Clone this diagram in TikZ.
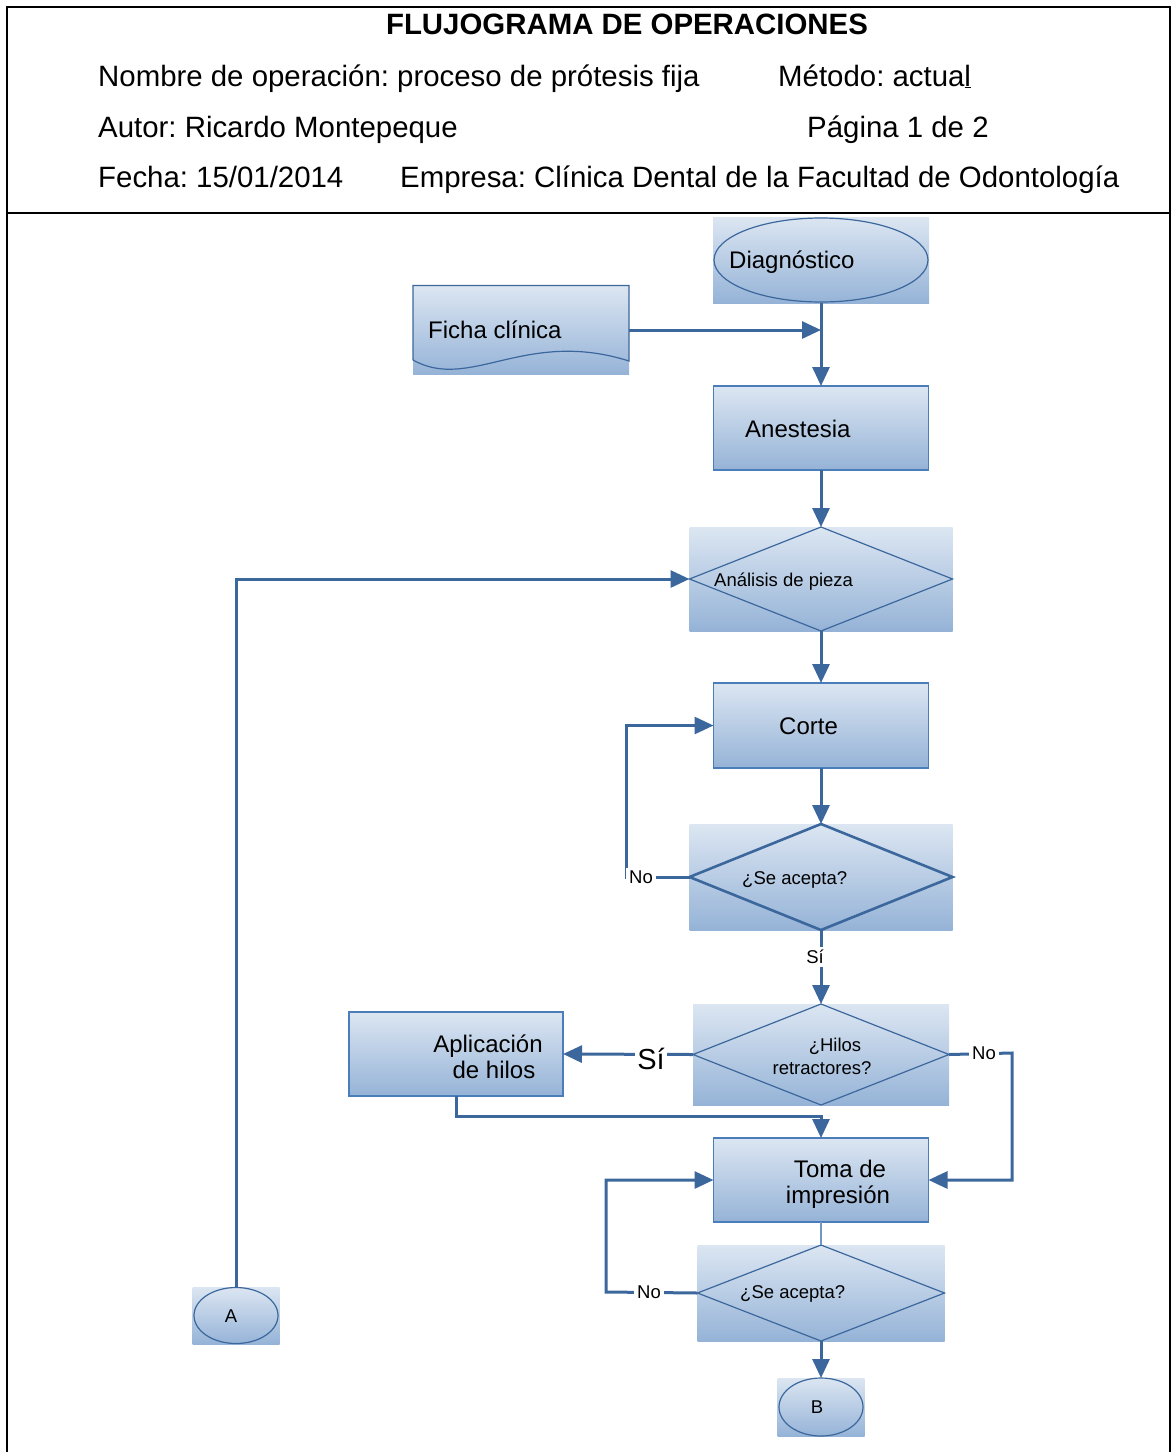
\documentclass[tikz,border=0pt]{standalone}
\usepackage{fontspec}
\setmainfont{Liberation Sans}
\usetikzlibrary{arrows.meta,calc}
\definecolor{boxtop}{HTML}{DCE6F2}
\definecolor{boxbot}{HTML}{95B3D7}
\definecolor{edgec}{HTML}{4A7EBB}
\definecolor{flowc}{HTML}{3C679C}
\frenchspacing
\begin{document}
\begin{tikzpicture}[x=1pt,y=-1pt,
  panel/.style={rectangle, inner sep=0pt, outer sep=0pt, top color=boxtop, bottom color=boxbot},
  boxed/.style={panel, draw=edgec, line width=1.1pt},
  outline/.style={draw=flowc, line width=1.2pt},
  flow/.style={draw=flowc, line width=3pt, line join=miter, -{Triangle[length=19pt,width=17pt]}},
  head/.style={font=\fontsize{29.4}{34}\selectfont, inner sep=0pt},
  big/.style={font=\fontsize{24}{28}\selectfont, inner sep=0pt},
  small/.style={font=\fontsize{18.5}{22}\selectfont, inner sep=0pt},
  tag/.style={font=\fontsize{18.5}{22}\selectfont, fill=white, inner sep=3pt}
]
\useasboundingbox (0,0) rectangle (1171,1452);

% frame of the sheet
\draw[line width=2.2pt] (7,1452) -- (7,7) -- (1170,7) -- (1170,1452);
\draw[line width=2.2pt] (7,213) -- (1170,213);

% heading block
\node[head, anchor=base] (title) at (627,34) {\bfseries FLUJOGRAMA DE OPERACIONES};
\node[head, anchor=base west] (hname) at (98,86) {Nombre de operación: proceso de prótesis fija};
\node[head, anchor=base west] (hmet) at (778,86) {Método: actua\underline{l}};
\node[head, anchor=base west] (haut) at (98,137) {Autor: Ricardo Montepeque};
\node[head, anchor=base west] (hpag) at (807,137) {Página 1 de 2};
\node[head, anchor=base west] (hfec) at (98,187) {Fecha: 15/01/2014};
\node[head, anchor=base west] (hemp) at (400,187) {Empresa: Clínica Dental de la Facultad de Odontología};

% shaded panels
\node[panel, minimum width=216pt, minimum height=86pt] (diag) at (821,260) {};
\node[panel, minimum width=216pt, minimum height=89pt] (ficha) at (521,330) {};
\node[boxed, minimum width=215pt, minimum height=84pt] (anest) at (821,428) {};
\node[panel, minimum width=263pt, minimum height=104pt] (anal) at (821,579) {};
\node[boxed, minimum width=215pt, minimum height=85pt] (corte) at (821,725.5) {};
\node[panel, minimum width=263pt, minimum height=106pt] (acep1) at (821,877) {};
\node[panel, minimum width=256pt, minimum height=101pt] (hilos) at (821,1054.5) {};
\node[boxed, minimum width=214pt, minimum height=84pt] (aplic) at (456,1054) {};
\node[boxed, minimum width=215pt, minimum height=84pt] (toma) at (821,1180) {};
\node[panel, minimum width=247pt, minimum height=96pt] (acep2) at (821,1293) {};
\node[panel, minimum width=87pt, minimum height=58pt] (bcon) at (821,1407) {};
\node[panel, minimum width=87pt, minimum height=57pt] (acon) at (236,1315.5) {};

% outlines drawn over the panels
\draw[outline] (diag.center) ellipse [x radius=107pt, y radius=42pt];
\draw[outline] (acon.center) ellipse [x radius=42pt, y radius=28pt];
\draw[outline] (bcon.center) ellipse [x radius=42pt, y radius=29pt];
\draw[outline] (413,360) -- (ficha.north west) -- (ficha.north east) -- (629,361)
  .. controls (525,328) and (470,392) .. (413,360);
\draw[outline] (anal.north) -- (anal.east) -- (anal.south) -- (anal.west) -- cycle;
\draw[draw=flowc, line width=2.6pt] (acep1.north) -- (acep1.east) -- (acep1.south) -- (acep1.west) -- cycle;
\draw[outline] (hilos.north) -- (hilos.east) -- (hilos.south) -- (hilos.west) -- cycle;
\draw[outline] (acep2.north) -- (acep2.east) -- (acep2.south) -- (acep2.west) -- cycle;

% texts of the steps
\node[big, anchor=base west] (tdiag) at (729,268) {Diagnóstico};
\node[big, anchor=base west] (tficha) at (428,338) {Ficha clínica};
\node[big, anchor=base west] (tanest) at (745,437) {Anestesia};
\node[small, anchor=base west] (tanal) at (714,586) {Análisis de pieza};
\node[big, anchor=base west] (tcorte) at (779,734) {Corte};
\node[small, anchor=base west] (tacep1) at (742,884) {¿Se acepta?};
\node[small, anchor=base] (thil1) at (835,1051) {¿Hilos};
\node[small, anchor=base] (thil2) at (822,1074) {retractores?};
\node[big, anchor=base] (tapl1) at (488,1052) {Aplicación};
\node[big, anchor=base] (tapl2) at (494,1078) {de hilos};
\node[big, anchor=base] (ttom1) at (840,1177) {Toma de};
\node[big, anchor=base] (ttom2) at (838,1203) {impresión};
\node[small, anchor=base west] (tacep2) at (740,1298) {¿Se acepta?};
\node[small] (ta) at (231,1316) {A};
\node[small] (tb) at (817,1407) {B};

% connectors
\coordinate (n1) at (626,877);
\coordinate (n2) at (1012,1053);
\coordinate (n3) at (606,1292);
\coordinate (j1) at (0,1116);

\draw[flow] (diag.south) -- (anest.north);
\draw[flow] (ficha.east) -- (ficha.east -| diag.south);
\draw[flow] (anest.south) -- (anal.north);
\draw[flow] (acon.north) |- (anal.west);
\draw[flow] (anal.south) -- (corte.north);
\draw[flow] (corte.south) -- (acep1.north);
\draw[flow] (acep1.west) -- (n1) |- (corte.west);
\draw[flow] (acep1.south) -- (hilos.north);
\draw[flow] (hilos.west) -- (aplic.east);
\draw[flow] (aplic.south) -- (aplic.south |- j1) -| (toma.north);
\draw[flow] (hilos.east) -- (n2) |- (toma.east);
\draw[draw=edgec!80, line width=1.2pt] (toma.south) -- (acep2.north);
\draw[flow] (acep2.west) -- (n3) |- (toma.west);
\draw[flow] (acep2.south) -- (bcon.north);

% branch labels
\node[tag] (lno1) at (641,877) {No};
\node[tag] (lsi1) at (815,957) {Sí};
\node[tag, font=\fontsize{29}{34}\selectfont, inner sep=2pt] (lsi2) at (651,1059) {Sí};
\node[tag] (lno2) at (984,1053) {No};
\node[tag] (lno3) at (649,1292) {No};
\end{tikzpicture}
\end{document}
